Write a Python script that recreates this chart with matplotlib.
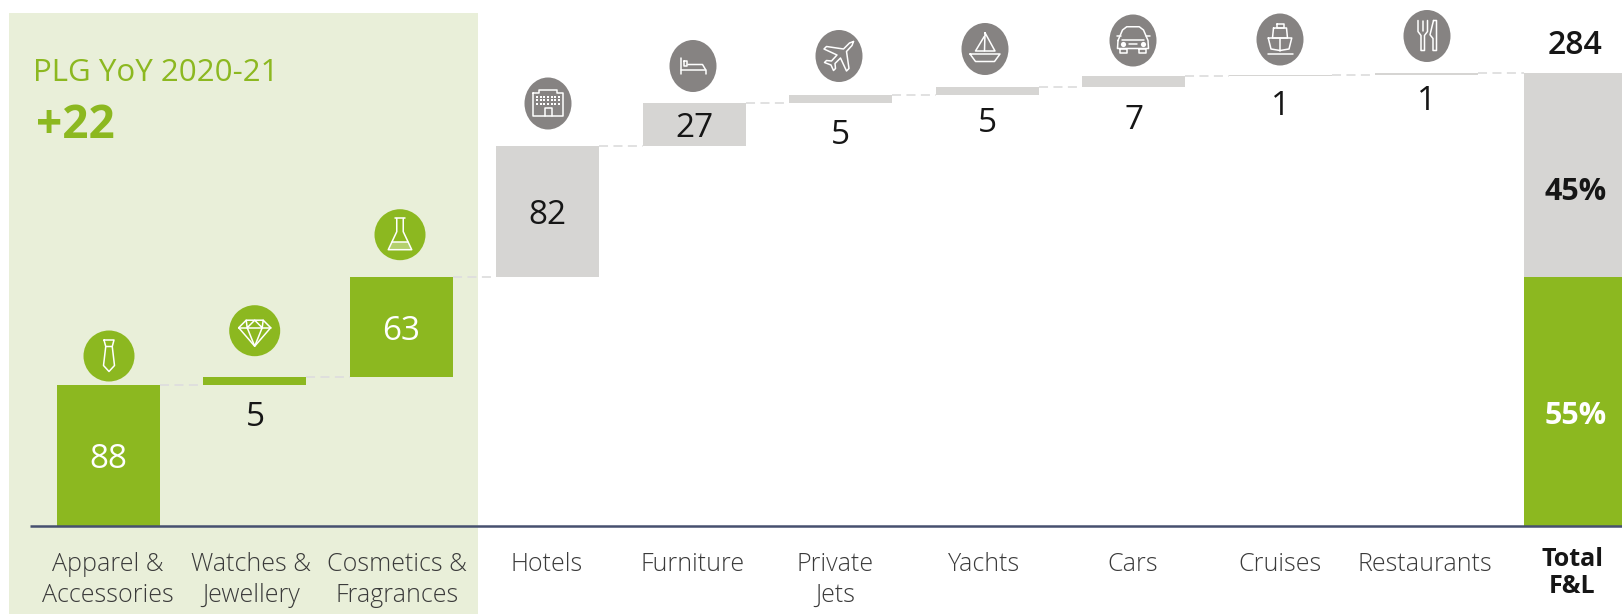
import matplotlib
matplotlib.use("Agg")
import matplotlib.pyplot as plt
from matplotlib.patches import Ellipse, Rectangle, Polygon
from matplotlib.transforms import Affine2D
import numpy as np

# ---- data ----
categories = ["Apparel &\nAccessories", "Watches &\nJewellery", "Cosmetics &\nFragrances",
              "Hotels", "Furniture", "Private\nJets", "Yachts", "Cars", "Cruises", "Restaurants"]
total_label = "Total\nF&L"
values = [88, 5, 63, 82, 27, 5, 5, 7, 1, 1]
total_value = 284
share_labels = ["55%", "45%"]
headline = "PLG YoY 2020-21"
headline_value = "+22"
icons = ["tie", "diamond", "flask", "hotel", "bed", "plane", "boat", "car", "ship", "cutlery"]
green_count = 3

# ---- styles and layout (pixels on a 1622x614 canvas) ----
W, H = 1622, 614
GREEN, GREY, ICON_GREY = "#8CB820", "#D6D5D3", "#868382"
PANEL, AXIS, DASH = "#E9EFD9", "#46506F", "#DEDEDE"
INK, SOFT_INK = "#161616", "#3A3A3A"
BASE_Y, PX_PER_UNIT = 525.5, 1.593
FIRST_X, STEP_X, BAR_PX = 108.5, 146.45, 103.0
TOTAL_X = 1575.5
FONT = "Open Sans"

plt.rcParams["font.family"] = [FONT, "DejaVu Sans"]

fig = plt.figure(figsize=(W / 100, H / 100), dpi=100, facecolor="white")
ax = fig.add_axes([0, 0, 1, 1])
ax.set_xlim(-FIRST_X / STEP_X, (W - FIRST_X) / STEP_X)
ax.set_ylim((BASE_Y - H) / PX_PER_UNIT, BASE_Y / PX_PER_UNIT)
ax.axis("off")

# Canvas-pixel transform (origin top-left) for panel, icons and text
px = Affine2D().scale(1 / W, -1 / H).translate(0, 1) + fig.transFigure


def put(x, y, s, **kw):
    kw.setdefault("ha", "center")
    kw.setdefault("va", "center")
    return ax.text(x, y, s, transform=px, **kw)


ax.add_patch(Rectangle((9, 13), 469, H - 13, color=PANEL, lw=0, transform=px, zorder=0))

# Waterfall steps
values_arr = np.array(values)
tops = np.cumsum(values_arr)
bottoms = tops - values_arr
x = np.arange(len(values))
bar_w = BAR_PX / STEP_X
colors = [GREEN if i < green_count else GREY for i in x]
ax.bar(x, values_arr, bottom=bottoms, width=bar_w, color=colors, lw=0, zorder=2)

# Total column split into the two groups
xt = (TOTAL_X - FIRST_X) / STEP_X
green_total = tops[green_count - 1]
ax.bar(xt, green_total, width=bar_w, color=GREEN, lw=0, zorder=2)
ax.bar(xt, total_value - green_total, bottom=green_total, width=bar_w, color=GREY, lw=0, zorder=2)

# Dashed connectors between neighbouring steps
next_x = list(x[1:]) + [xt]
for i, level in enumerate(tops):
    ax.plot([i + bar_w / 2, next_x[i] - bar_w / 2], [level, level], color=DASH, lw=1.3,
            dashes=(5, 3), zorder=1)

ax.plot([30, W], [BASE_Y, BASE_Y], color=AXIS, lw=1.8, transform=px, zorder=3, solid_capstyle="butt")


def to_px_y(v):
    return BASE_Y - v * PX_PER_UNIT


# Value labels: inside tall bars, under the thin ones
inside_nudge = 4
below_gap = [0, 32, 0, 0, 0, 32, 28, 33, 30, 27]
for i, v in enumerate(values):
    cx = FIRST_X + i * STEP_X
    if v > 20:
        y = to_px_y(bottoms[i] + v / 2) + inside_nudge
        col = "white" if i < green_count else INK
    else:
        y = to_px_y(bottoms[i]) + below_gap[i]
        col = INK
    put(cx, y, str(v), color=col, fontsize=24, fontweight=400)

put(TOTAL_X, 45, str(total_value), color=INK, fontsize=23, fontweight=600)
put(TOTAL_X, 416, share_labels[0], color="white", fontsize=22, fontweight=700)
put(TOTAL_X, 192, share_labels[1], color=INK, fontsize=22, fontweight=700)

# Category labels
label_x = [108, 251, 397, 547, 693, 835, 984, 1133, 1280, 1425]
for lx, name in zip(label_x, categories):
    put(lx, 552, name, va="top", color=SOFT_INK, fontsize=18, fontweight=300, linespacing=1.31)
put(1572, 547, total_label, va="top", color=INK, fontsize=18, fontweight=700, linespacing=1.08)

# Panel headline
put(33, 73, headline, ha="left", color=GREEN, fontsize=22.5, fontweight=400)
put(36, 125, headline_value, ha="left", color=GREEN, fontsize=33, fontweight=700)


# ---- icons, outlined in white inside a disc; unit = 25 px, y downward ----
def closed(*p):
    return list(p) + [p[0]]


ICON_PATHS = {
    "tie": [closed((-.2, -.64), (.2, -.64), (.13, -.38), (-.13, -.38)),
            [(-.13, -.38), (-.22, .38), (0, .62), (.22, .38), (.13, -.38)]],
    "diamond": [closed((-.64, -.12), (-.34, -.42), (.34, -.42), (.64, -.12), (0, .62)),
                [(-.64, -.12), (.64, -.12)],
                [(-.34, -.42), (-.3, -.12), (0, -.42), (.3, -.12), (.34, -.42)],
                [(-.3, -.12), (0, .62), (.3, -.12)]],
    "flask": [[(-.19, -.65), (.19, -.65)],
              [(-.13, -.65), (-.13, -.12), (-.47, .6), (.47, .6), (.13, -.12), (.13, -.65)],
              [(-.33, .3), (.33, .3)]],
    "hotel": [closed((-.6, -.42), (-.36, -.42), (-.36, -.54), (.36, -.54), (.36, -.42), (.6, -.42),
                     (.6, .5), (-.6, .5)),
              [(-.14, .5), (-.14, .16), (.14, .16), (.14, .5)]],
    "bed": [[(-.48, -.32), (-.48, .32)], [(-.48, .14), (.5, .14), (.5, .32)],
            [(-.2, -.06), (.38, -.06), (.5, .14)], closed((-.38, -.2), (-.25, -.2), (-.25, -.02), (-.38, -.02))],
    "plane": [closed((.58, -.58), (.42, -.52), (.18, -.28), (-.5, -.38), (-.6, -.28), (-.08, -.04),
                     (-.3, .2), (-.5, .18), (-.58, .26), (-.32, .36), (-.22, .58), (-.14, .5),
                     (-.16, .3), (.06, .08), (.3, .6), (.4, .5), (.3, -.18), (.52, -.42))],
    "boat": [closed((-.6, .2), (.6, .2), (.38, .5), (-.38, .5)),
             closed((0, -.65), (.4, .08), (-.02, .08)),
             [(-.03, -.5), (-.38, .08), (-.03, .08)]],
    "car": [closed((-.6, 0), (-.42, -.42), (-.25, -.55), (.25, -.55), (.42, -.42), (.6, 0),
                   (.62, .32), (-.62, .32)),
            [(-.45, -.02), (.45, -.02)], [(-.15, .12), (.15, .12)],
            closed((-.52, .32), (-.25, .32), (-.25, .5), (-.52, .5)),
            closed((.25, .32), (.52, .32), (.52, .5), (.25, .5)),
            [(-.5, -.2), (-.66, -.2)], [(.5, -.2), (.66, -.2)]],
    "ship": [closed((-.14, -.64), (.14, -.64), (.14, -.46), (-.14, -.46)),
             closed((-.26, -.46), (.26, -.46), (.3, -.06), (-.3, -.06)),
             [(-.47, -.06), (.47, -.06), (.36, .38), (0, .44), (-.36, .38), (-.47, -.06)],
             [(0, -.06), (0, .44)], [(-.5, .56), (.5, .56)]],
    "cutlery": [[(-.36, -.62), (-.36, -.18), (-.24, -.02), (-.24, .58), (-.1, .58), (-.1, -.02),
                 (.02, -.18), (.02, -.62)],
                [(-.17, -.62), (-.17, -.22)],
                closed((.26, -.62), (.38, -.62), (.38, .58), (.24, .58), (.24, .1), (.12, -.05))],
}

icon_centres = [(109, 356), (254.7, 330.7), (400, 234.7), (548, 103.5), (693, 66), (839, 56),
                (985, 49), (1133, 40.5), (1280, 39.5), (1427, 36)]
for i, (name, (cx, cy)) in enumerate(zip(icons, icon_centres)):
    green = i < green_count
    w, h = (51, 51) if green else (47, 52)
    ax.add_patch(Ellipse((cx, cy), w, h, color=GREEN if green else ICON_GREY, lw=0,
                         transform=px, zorder=4))
    for path in ICON_PATHS[name]:
        p = np.array(path) * 25 + [cx, cy]
        ax.plot(p[:, 0], p[:, 1], color="white", lw=1.1, transform=px, zorder=5,
                solid_joinstyle="round", solid_capstyle="round")
    if name == "flask":
        ax.add_patch(Polygon(np.array([(-.33, .3), (.33, .3), (.47, .6), (-.47, .6)]) * 25 + [cx, cy],
                             color="white", alpha=.35, lw=0, transform=px, zorder=5))
    if name == "hotel":
        gx, gy = np.meshgrid(np.linspace(-.44, .44, 7), np.linspace(-.28, .02, 3))
        ax.scatter(gx.ravel() * 25 + cx, gy.ravel() * 25 + cy, s=2.5, marker="s", color="white",
                   transform=px, zorder=5, lw=0)
    if name == "car":
        ax.scatter(np.array([-.4, .4]) * 25 + cx, np.array([.12, .12]) * 25 + cy, s=14, color="white",
                   transform=px, zorder=5, lw=0)

fig.savefig("out.png", dpi=100)
